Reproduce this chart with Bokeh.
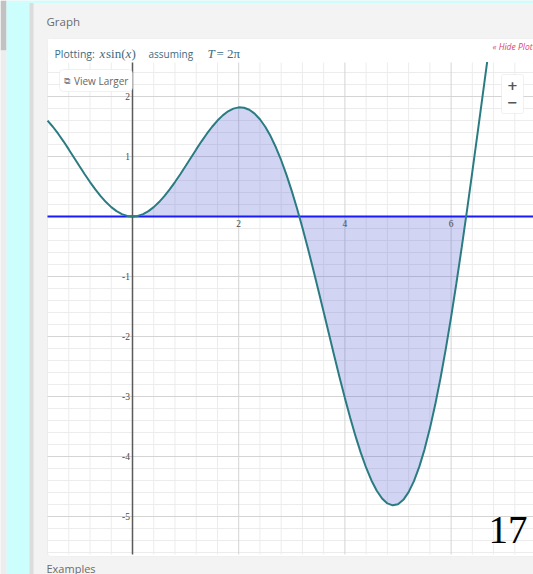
from bokeh.plotting import figure
from bokeh.models import Range1d, Label, BoxAnnotation
from bokeh.core.properties import value
from bokeh.embed import file_html
from bokeh.resources import INLINE

# ---- data: y = x*sin(x) ----
x_vals = [-1.6, -1.5, -1.4, -1.3, -1.2, -1.1, -1.0, -0.9, -0.8, -0.7, -0.6, -0.5, -0.4, -0.3, -0.2, -0.1,
          0.0, 0.1, 0.2, 0.3, 0.4, 0.5, 0.6, 0.7, 0.8, 0.9, 1.0, 1.1, 1.2, 1.3, 1.4, 1.5, 1.6, 1.7, 1.8, 1.9,
          2.0, 2.1, 2.2, 2.3, 2.4, 2.5, 2.6, 2.7, 2.8, 2.9, 3.0, 3.1, 3.2, 3.3, 3.4, 3.5, 3.6, 3.7, 3.8, 3.9,
          4.0, 4.1, 4.2, 4.3, 4.4, 4.5, 4.6, 4.7, 4.8, 4.9, 5.0, 5.1, 5.2, 5.3, 5.4, 5.5, 5.6, 5.7, 5.8, 5.9,
          6.0, 6.1, 6.2, 6.3, 6.4, 6.5, 6.6, 6.7]
y_vals = [1.599, 1.496, 1.380, 1.253, 1.118, 0.980, 0.841, 0.705, 0.574, 0.451, 0.339, 0.240, 0.156, 0.089, 0.040, 0.010,
          0.0, 0.010, 0.040, 0.089, 0.156, 0.240, 0.339, 0.451, 0.574, 0.705, 0.841, 0.980, 1.118, 1.253, 1.380, 1.496, 1.599, 1.686, 1.753, 1.798,
          1.819, 1.813, 1.779, 1.715, 1.621, 1.496, 1.340, 1.154, 0.938, 0.694, 0.423, 0.129, -0.187, -0.521, -0.869, -1.228, -1.593, -1.960, -2.325, -2.682,
          -3.027, -3.355, -3.661, -3.940, -4.187, -4.399, -4.571, -4.700, -4.782, -4.814, -4.795, -4.722, -4.594, -4.411, -4.173, -3.881, -3.535, -3.139, -2.695, -2.206,
          -1.676, -1.111, -0.515, 0.106, 0.746, 1.398, 2.056, 2.713]
area_start = 0.0
area_end = 6.28          # T = 2*pi, the curve crosses zero there
area_end_value = 0.0

x_tick_vals = [2, 4, 6]
x_tick_labels = ["2", "4", "6"]
y_tick_vals = [2, 1, -1, -2, -3, -4, -5]
y_tick_labels = ["2", "1", "-1", "-2", "-3", "-4", "-5"]

x_major_grid = [2, 4, 6]
x_minor_grid = [-1.6, -1.2, -0.8, -0.4, 0.4, 0.8, 1.2, 1.6, 2.4, 2.8, 3.2, 3.6, 4.4, 4.8, 5.2, 5.6, 6.4, 6.8, 7.2]
y_major_grid = [2, 1, -1, -2, -3, -4, -5]
y_minor_grid = [2.4, 2.2, 1.8, 1.6, 1.4, 1.2, 0.8, 0.6, 0.4, 0.2, -0.2, -0.4, -0.6, -0.8, -1.2, -1.4, -1.6, -1.8,
                -2.2, -2.4, -2.6, -2.8, -3.2, -3.4, -3.6, -3.8, -4.2, -4.4, -4.6, -4.8, -5.2, -5.4, -5.6]

fill_x = [x for x in x_vals if area_start <= x < area_end] + [area_end]
fill_y = [y for x, y in zip(x_vals, y_vals) if area_start <= x < area_end] + [area_end_value]

# ---- layout: the canvas is the whole window, data mapped by page pixels ----
W, H = 533, 574
GL, GT, GR, GB = 47, 62, 533, 554    # graph area (page px)
PXU, PYU = 53.1, 60.0                # px per data unit
X0, Y0 = 132, 216                    # page px of data origin


def X(px):
    return (px - X0) / PXU


def Y(py):
    return (Y0 - py) / PYU


p = figure(width=W, height=H, output_backend="svg", toolbar_location=None, title=None,
           x_range=Range1d(X(0), X(W)), y_range=Range1d(Y(H), Y(0)),
           min_border_left=0, min_border_right=0, min_border_top=0, min_border_bottom=0)
p.axis.visible = False
p.grid.visible = False
p.background_fill_color = "#f4f3f3"
p.border_fill_color = "#f4f3f3"
p.outline_line_color = None


def rect(l, t, r, b, color):
    p.quad(left=[X(l)], right=[X(r)], top=[Y(t)], bottom=[Y(b)], fill_color=color, line_color=None)


def box(l, t, r, b, **kw):
    bx = BoxAnnotation(left=X(l), right=X(r), top=Y(t), bottom=Y(b), **kw)
    p.add_layout(bx)


# page decoration
rect(0, 0, 6, 50, "#c2c2c2")
rect(0, 50, 6, H, "#ededed")
rect(6, 0, 29, H, "#cdfefe")
rect(29, 0, W, 2.5, "#cdfefe")
rect(29, 2.5, 33, H, "#dcdcdc")
box(GL, 38, W + 10, 556, fill_color="white", fill_alpha=1, line_color="#dadada", line_width=1,
    border_radius=4, level="underlay")

# grid lines (graph area only)
p.segment(x0=x_minor_grid, x1=x_minor_grid, y0=[Y(GB)] * len(x_minor_grid), y1=[Y(GT)] * len(x_minor_grid),
          line_color="#ececec", line_width=1)
p.segment(x0=[X(GL)] * len(y_minor_grid), x1=[X(GR)] * len(y_minor_grid), y0=y_minor_grid, y1=y_minor_grid,
          line_color="#ececec", line_width=1)
p.segment(x0=x_major_grid, x1=x_major_grid, y0=[Y(GB)] * len(x_major_grid), y1=[Y(GT)] * len(x_major_grid),
          line_color="#d4d4d4", line_width=1)
p.segment(x0=[X(GL)] * len(y_major_grid), x1=[X(GR)] * len(y_major_grid), y0=y_major_grid, y1=y_major_grid,
          line_color="#d4d4d4", line_width=1)

# shaded integral
p.varea(x=fill_x, y1=[0] * len(fill_x), y2=fill_y, fill_color="#4b55d0", fill_alpha=0.25)

# axis lines
p.segment(x0=[0], x1=[0], y0=[Y(GB)], y1=[Y(GT)], line_color="#5a5a5a", line_width=1.5)
p.segment(x0=[X(GL)], x1=[X(GR)], y0=[0], y1=[0], line_color="#1a1aff", line_width=2)

# curve
p.line(x_vals, y_vals, line_color="#2b7c82", line_width=2)

# mask the header strip of the white panel (curve leaves the graph at its top)
rect(GL + 0.5, 38.6, W, GT - 0.5, "white")

# tick labels
p.text(x=x_tick_vals, y=[0] * len(x_tick_vals), text=x_tick_labels, text_align="center", text_baseline="top",
       y_offset=3, text_font=value("Liberation Serif"), text_font_size="9.5px", text_color="#4a4a4a")
p.text(x=[0] * len(y_tick_vals), y=y_tick_vals, text=y_tick_labels, text_align="right", text_baseline="middle",
       x_offset=-2.5, text_font=value("Liberation Serif"), text_font_size="9.5px", text_color="#4a4a4a")


def lab(text, px, py, **kw):
    d = dict(text_baseline="middle", text_align="left")
    d.update(kw)
    p.add_layout(Label(x=X(px), y=Y(py), text=text, **d))


TXT = "#3e6a7e"
lab("Graph", 46, 21, text_font="Open Sans", text_font_size="11.5px", text_color="#6b6b6b")
lab("Plotting:", 54, 53, text_font="Open Sans", text_font_size="10.5px", text_color=TXT)
lab("x", 99, 52.5, text_font="Liberation Serif", text_font_style="italic", text_font_size="13px", text_color=TXT)
lab("sin(", 105.5, 52.5, text_font="Liberation Serif", text_font_size="13px", text_color=TXT)
lab("x", 125, 52.5, text_font="Liberation Serif", text_font_style="italic", text_font_size="13px", text_color=TXT)
lab(")", 131, 52.5, text_font="Liberation Serif", text_font_size="13px", text_color=TXT)
lab("assuming", 148, 53, text_font="Open Sans", text_font_size="10px", text_color=TXT)
lab("T", 207, 52.5, text_font="Liberation Serif", text_font_style="italic", text_font_size="13px", text_color=TXT)
lab("= 2π", 216, 52.5, text_font="Liberation Serif", text_font_size="13px", text_color=TXT)
lab("« Hide Plot", 532, 45.5, text_align="right", text_font="Open Sans", text_font_style="italic",
    text_font_size="8.5px", text_color="#e0446a")

# View Larger button
box(59, 69, 132, 91, fill_color="white", fill_alpha=1, line_color="#d0d0d0", border_radius=4)
lab("⧉", 63, 80.5, text_font="DejaVu Sans", text_font_size="8.5px", text_color="#888888")
lab("View Larger", 73.5, 80.5, text_font="Open Sans", text_font_size="10px", text_color="#666666")

# zoom buttons
box(501, 74, 523, 113, fill_color="white", fill_alpha=1, line_color="#d0d0d0", border_radius=2)
lab("+", 512, 85, text_align="center", text_font="DejaVu Sans", text_font_size="13px",
    text_font_style="bold", text_color="#555555")
lab("−", 512, 102, text_align="center", text_font="DejaVu Sans", text_font_size="13px",
    text_font_style="bold", text_color="#555555")

# big number
lab("17", 488, 529.5, text_font="Liberation Serif", text_font_size="39px", text_color="black")

# next section heading (cut by the window bottom in the reference)
lab("Examples", 46, 567.5, text_font="Open Sans", text_font_size="11px", text_color="#6b6b6b")

open("out.html", "w").write(file_html(p, INLINE))
